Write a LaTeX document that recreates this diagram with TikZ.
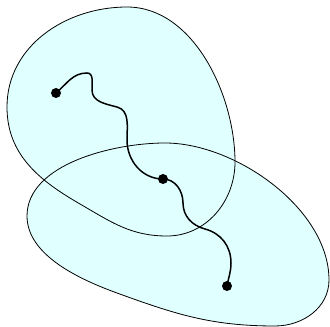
\documentclass[tikz,border=0pt]{standalone}
\definecolor{blobfill}{RGB}{224,255,255}
\newcommand\upperblob{(127,320) to[out=0,in=90,looseness=0.9] (235,165) to[out=-90,in=0] (167,91)
  to[out=180,in=-30] (80,123) to[out=150,in=-90] (7,220) to[out=90,in=180] cycle}
\newcommand\lowerblob{(165,184) to[out=0,in=90,looseness=0.85] (329,47) to[out=-90,in=0] (275,1)
  to[out=180,in=-20] (117,34) to[out=160,in=-90,looseness=0.85] (27,111) to[out=90,in=180,looseness=0.85] cycle}
\begin{document}
\begin{tikzpicture}[x=1pt, y=1pt, line width=0.8pt]
\tikzset{
  dot/.style={circle, fill=black, inner sep=0pt, minimum size=10pt},
  wire/.style={line width=1.5pt}
}
\useasboundingbox (0,0) rectangle (330,327);
% fills first, outlines on top
\fill[blobfill] \upperblob;
\fill[blobfill] \lowerblob;
\draw \upperblob;
\draw \lowerblob;
\node[dot] (start) at (56,234) {};
\node[dot] (mid) at (163,148) {};
\node[dot] (end) at (227,41) {};
\draw[wire] (start.center) to[out=40,in=180] (87,254) to[out=0,in=90] (92,237)
  to[out=-90,in=165] (117,220) to[out=-15,in=90] (127,187) to[out=-90,in=180] (mid.center);
\draw[wire] (mid.center) to[out=0,in=90] (183,124) to[out=-90,in=165] (205,98)
  to[out=-15,in=90] (231,64) to[out=-90,in=80] (end.center);
\end{tikzpicture}
\end{document}
